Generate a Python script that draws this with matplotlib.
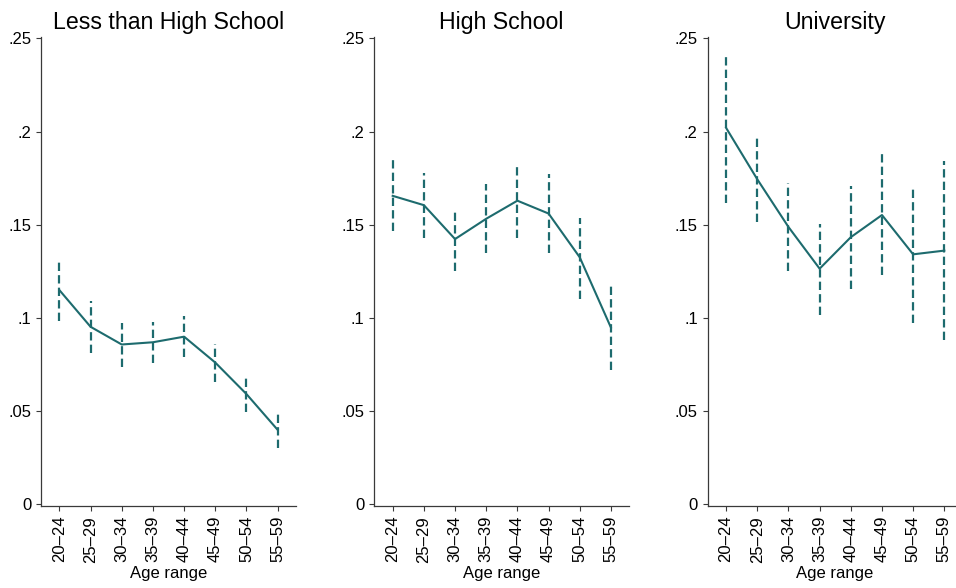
import matplotlib
matplotlib.use("Agg")
import matplotlib.pyplot as plt

plt.rcParams['font.family'] = ['Liberation Sans', 'DejaVu Sans']
plt.rcParams['lines.scale_dashes'] = False

# --- data ---
age_groups = ["20–24", "25–29", "30–34", "35–39", "40–44", "45–49", "50–54", "55–59"]
panel_titles = ["Less than High School", "High School", "University"]

less_hs_mean = [0.1149, 0.0952, 0.0857, 0.0869, 0.0899, 0.0760, 0.0591, 0.0399]
less_hs_low = [0.0984, 0.0812, 0.0738, 0.0758, 0.0792, 0.0657, 0.0494, 0.0302]
less_hs_high = [0.1312, 0.1090, 0.0974, 0.0980, 0.1008, 0.0859, 0.0685, 0.0490]

hs_mean = [0.1655, 0.1605, 0.1423, 0.1532, 0.1629, 0.1560, 0.1325, 0.0948]
hs_low = [0.1464, 0.1431, 0.1252, 0.1347, 0.1427, 0.1347, 0.1099, 0.0722]
hs_high = [0.1845, 0.1780, 0.1587, 0.1716, 0.1829, 0.1774, 0.1538, 0.1175]

uni_mean = [0.2020, 0.1744, 0.1488, 0.1264, 0.1433, 0.1552, 0.1341, 0.1361]
uni_low = [0.1619, 0.1512, 0.1250, 0.1014, 0.1153, 0.1230, 0.0974, 0.0879]
uni_high = [0.2421, 0.1980, 0.1722, 0.1504, 0.1708, 0.1877, 0.1710, 0.1841]

y_ticks = [0, 0.05, 0.10, 0.15, 0.20, 0.25]
y_tick_labels = ["0", ".05", ".1", ".15", ".2", ".25"]

series = [(less_hs_mean, less_hs_low, less_hs_high),
          (hs_mean, hs_low, hs_high),
          (uni_mean, uni_low, uni_high)]

TEAL = "#1d6b6e"
AXIS = "#3a3a3a"

fig = plt.figure(figsize=(9.56, 5.88), dpi=100)
lefts = [41 / 956, 374.3 / 956, 707.7 / 956]
bottom = 1 - 506 / 588
height = (506 - 37.5) / 588
width = 254.7 / 956

x = list(range(len(age_groups)))
for left, title, (mean, low, high) in zip(lefts, panel_titles, series):
    ax = fig.add_axes([left, bottom, width, height])
    # CI spikes, dashed, drawn bottom -> top
    for xi, lo, hi in zip(x, low, high):
        ax.plot([xi, xi], [lo, hi], color=TEAL, lw=1.6,
                dashes=(6, 3), solid_capstyle="butt", dash_capstyle="butt")
    ax.plot(x, mean, color=TEAL, lw=1.5)

    ax.set_xlim(-0.59, 7.58)
    ax.set_ylim(-0.001, 0.2505)
    ax.set_yticks(y_ticks)
    ax.set_yticklabels(y_tick_labels)
    ax.set_xticks(x)
    ax.set_xticklabels(age_groups, rotation=90)
    ax.tick_params(axis="both", direction="out", length=3.6, width=0.8,
                   color=AXIS, labelsize=12, pad=3.5)
    for side in ("top", "right"):
        ax.spines[side].set_visible(False)
    for side in ("left", "bottom"):
        ax.spines[side].set_color(AXIS)
        ax.spines[side].set_linewidth(0.9)
    ax.set_xlabel("Age range", fontsize=12, labelpad=2.5)
    ax.set_title(title, fontsize=16.7, pad=6)

fig.savefig("out.png", dpi=100)
